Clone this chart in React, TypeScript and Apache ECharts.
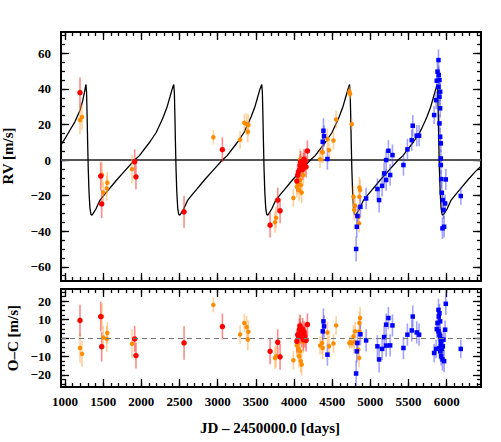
import React, { useEffect, useRef } from "react";
import * as echarts from "echarts";

// ---------- axis ranges & tick labels ----------
const X_MIN = 948;
const X_MAX = 6450;
const RV_MIN = -68;
const RV_MAX = 72;
const OC_MIN = -26.5;
const OC_MAX = 26.5;

const xTickLabels = [1000, 1500, 2000, 2500, 3000, 3500, 4000, 4500, 5000, 5500, 6000];
const rvTickLabels = [-60, -40, -20, 0, 20, 40, 60];
const ocTickLabels = [-20, -10, 0, 10, 20];

// ---------- data: red instrument ----------
const redJD = [1197, 1468, 1481, 1913, 1930, 2560, 3062, 3687, 3787, 3818, 4037, 4049, 4058, 4071, 4080, 4088, 4101, 4114, 4123, 4132, 4145, 4159, 4176];
const redRV = [37.9, -9.0, -24.7, -1.0, -9.4, -29.1, 5.8, -36.6, -22.5, -28.5, -11.8, -8.4, -6.6, -5.6, -2.8, -0.9, -3.8, -5.2, -1.9, 0.4, -0.9, -3.8, 5.1];
const redErr = [8.5, 8, 8, 7, 7, 9, 7, 7, 7, 7, 6, 6, 6, 6, 6, 6, 6, 6, 6, 6, 6, 6, 6];
const redOC = [9.5, 11.6, -4.7, -0.5, -9.5, -2.7, 6.2, -7.2, -2.3, -10.2, -1.8, 1.8, 0.9, 4.5, 6.6, 3.0, 0.9, 4.8, -0.9, 3.0, 0.9, -1.3, 7.3];

// ---------- data: orange instrument ----------
const orangeJD = [1197, 1223, 1485, 1502, 1547, 1555, 1878, 2944, 3294, 3350, 3380, 3395, 3403, 3752, 3765, 3992, 4037, 4049, 4060, 4067, 4080, 4080, 4088, 4101, 4123, 4342, 4368, 4377, 4438, 4460, 4517, 4552, 4726, 4735, 4757, 4779, 4788, 4801, 4844, 4853, 4857, 4857, 4866];
const orangeRV = [22.5, 24.2, -8.4, -18.2, -15.9, -12.8, -5.1, 12.8, 11.4, 21.0, 20.2, 15.9, 19.7, -34.9, -32.4, -21.3, -15.0, -13.1, -9.0, -16.9, -11.2, 0.4, -14.1, -18.2, -8.4, 0.5, 4.5, 4.3, 11.8, 5.6, 11.0, 22.8, 38.4, 37.2, 20.2, -20.6, -28.0, -25.7, -31.9, -35.6, -20.6, -15.4, -16.9];
const orangeErr = [8, 7, 7, 6, 7, 6, 8, 4, 5, 5, 6, 6, 6, 6, 6, 5, 6, 6, 6, 6, 6, 6, 6, 6, 6, 5, 6, 6, 6, 6, 5, 5, 3, 3, 3, 6, 6, 5, 5, 5, 6, 6, 6];
const orangeOC = [-5.4, -8.6, 11.6, 0.3, -0.5, 2.7, -3.1, 17.9, 1.9, 8.1, 5.9, -0.8, 3.4, -10.8, -9.9, -12.0, -4.1, -2.7, -5.9, -9.9, -7.2, 6.6, -12.5, -14.3, -2.0, -4.1, -2.7, -5.4, 3.0, -4.5, -3.0, 6.8, -2.7, -2.3, -2.7, 0.9, -2.3, 3.6, -6.3, -10.8, 3.6, 8.1, 10.8];

// ---------- data: blue instrument ----------
const blueJD = [4377, 4386, 4394, 4438, 4814, 4823, 4831, 4870, 4945, 5093, 5115, 5155, 5181, 5207, 5207, 5237, 5260, 5290, 5434, 5486, 5543, 5556, 5608, 5639, 5836, 5862, 5871, 5880, 5893, 5897, 5906, 5893, 5915, 5906, 5915, 5906, 5915, 5924, 5924, 5924, 5928, 5937, 5950, 5958, 5945, 5967, 5980, 5989, 6185];
const blueRV = [10.3, 16.5, 13.5, 0.6, -50.0, -37.5, -31.5, -26.3, -21.6, -16.3, -22.5, -14.5, -7.5, -11.2, 0.0, 5.2, -8.4, 2.8, -2.8, 6.0, 11.2, 19.3, 13.7, 13.7, 25.3, 33.7, 44.6, 49.7, 56.2, 47.8, 45.0, 41.2, 38.4, 35.6, 29.1, 20.6, 13.1, 9.4, 0.9, -2.8, -10.7, -18.4, -22.5, -28.1, -38.4, -37.5, -24.4, -10.9, -20.2];
const blueErr = [5, 7, 6, 6, 7, 6, 6, 6, 6, 6, 7, 6, 6, 6, 6, 6, 6, 6, 6, 6, 6, 6, 6, 6, 5, 5, 5, 5, 6, 5, 5, 5, 5, 5, 5, 5, 5, 5, 5, 5, 5, 6, 5, 5, 6, 6, 5, 6, 5];
const blueOC = [3.6, 9.0, 6.3, -9.0, -19.2, -7.2, -2.7, 2.0, -1.3, -4.5, -11.6, -5.9, 0.5, -4.1, 7.2, 10.8, -4.0, 6.8, -5.4, 1.8, 4.1, 11.6, 3.0, 1.8, -8.1, -5.9, 4.8, 8.1, 15.2, 11.6, 13.4, 3.6, 9.0, 1.8, 0.9, -5.4, -7.2, -2.7, -0.9, -4.5, -9.9, -5.9, -4.5, -0.9, -11.6, -12.5, 4.5, 18.5, -5.9];

// ---------- model curve ----------
const modelJD = [948, 1000, 1066, 1130, 1197, 1230, 1255, 1275, 1283, 1290, 1297, 1305, 1315, 1327, 1340, 1353, 1370, 1405, 1459, 1525, 1575, 1677, 1775, 1912, 1975, 2114, 2195, 2265, 2289, 2335, 2376, 2405, 2425,
  2433, 2440, 2447, 2455, 2465, 2477, 2490, 2503, 2520, 2555, 2609, 2675, 2725, 2827, 2925, 3062, 3125, 3264, 3345, 3415, 3439, 3485, 3526, 3555, 3578,
  3586, 3593, 3600, 3608, 3618, 3630, 3643, 3656, 3673, 3708, 3762, 3828, 3878, 3980, 4078, 4215, 4278, 4417, 4498, 4568, 4592, 4638, 4679, 4708, 4728,
  4736, 4743, 4750, 4758, 4768, 4780, 4793, 4806, 4823, 4858, 4912, 4978, 5028, 5130, 5228, 5365, 5428, 5567, 5648, 5718, 5742, 5788, 5829, 5858, 5875,
  5883, 5890, 5897, 5905, 5915, 5927, 5940, 5953, 5970, 6005, 6059, 6125, 6175, 6277, 6375, 6450];
const modelRV = [8.5, 12.0, 16.9, 21.5, 28.0, 33.0, 38.0, 42.5, 38.0, 25.0, 10.0, -5.0, -18.0, -27.0, -30.5, -31.0, -30.0, -27.5, -22.5, -19.0, -16.5, -11.2, -6.5, 0.0, 2.5, 10.3, 15.5, 22.0, 24.4, 29.5, 35.6, 40.0, 42.5,
  38.0, 25.0, 10.0, -5.0, -18.0, -27.0, -30.5, -31.0, -30.0, -27.5, -22.5, -19.0, -16.5, -11.2, -6.5, 0.0, 2.5, 10.3, 15.5, 22.0, 24.4, 29.5, 35.6, 40.0, 42.5,
  38.0, 25.0, 10.0, -5.0, -18.0, -27.0, -30.5, -31.0, -30.0, -27.5, -22.5, -19.0, -16.5, -11.2, -6.5, 0.0, 2.5, 10.3, 15.5, 22.0, 24.4, 29.5, 35.6, 40.0, 42.5,
  38.0, 25.0, 10.0, -5.0, -18.0, -27.0, -30.5, -31.0, -30.0, -27.5, -22.5, -19.0, -16.5, -11.2, -6.5, 0.0, 2.5, 10.3, 15.5, 22.0, 24.4, 29.5, 35.6, 40.0, 42.5,
  38.0, 25.0, 10.0, -5.0, -18.0, -27.0, -30.5, -31.0, -30.0, -27.5, -22.5, -19.0, -16.5, -11.2, -6.5, -3.5];

const FONT = "Liberation Serif";

function steps(a: number, b: number, s: number): number[] {
  const out: number[] = [];
  for (let v = a; v <= b + 1e-9; v += s) out.push(Math.round(v * 100) / 100);
  return out;
}

const fmt = (v: number) => String(v).replace("-", "\u2212");

function tickAxis(o: any) {
  return {
    type: "value",
    gridIndex: o.grid,
    position: o.position,
    min: o.min,
    max: o.max,
    axisLine: { show: false, onZero: false },
    splitLine: { show: false },
    axisTick: {
      show: true,
      inside: true,
      length: o.len,
      customValues: o.ticks,
      lineStyle: { color: "#000", width: 1.3 },
    },
    axisLabel: o.labels
      ? {
          show: true,
          customValues: o.labels,
          formatter: fmt,
          fontFamily: FONT,
          fontWeight: "bold",
          fontSize: 13,
          color: "#000",
          margin: o.margin,
        }
      : { show: false },
  };
}

function errSeries(jd: number[], val: number[], err: number[], color: string, ax: number) {
  return {
    type: "custom",
    xAxisIndex: ax,
    yAxisIndex: ax,
    z: 3,
    silent: true,
    data: jd.map((x, i) => [x, val[i], err[i]]),
    encode: { x: 0, y: 1 },
    renderItem: (_p: any, api: any) => {
      const x = api.value(0);
      const y = api.value(1);
      const e = api.value(2);
      const a = api.coord([x, y - e]);
      const b = api.coord([x, y + e]);
      return {
        type: "line",
        shape: { x1: a[0], y1: a[1], x2: b[0], y2: b[1] },
        style: { stroke: color, lineWidth: 1.6 },
      };
    },
  };
}

function pts(jd: number[], val: number[], color: string, symbol: string, size: number, ax: number) {
  return {
    type: "scatter",
    xAxisIndex: ax,
    yAxisIndex: ax,
    z: 4,
    symbol,
    symbolSize: size,
    itemStyle: { color, opacity: 1 },
    data: jd.map((x, i) => [x, val[i]]),
  };
}

export default function App() {
  const ref = useRef<HTMLDivElement>(null);
  useEffect(() => {
    if (!ref.current) return;
    const chart = echarts.init(ref.current, null, { renderer: "svg" });
    const xMinor = steps(1000, 6400, 100);
    const rvMinor = steps(-65, 70, 5);
    const ocMinor = steps(-25, 25, 2.5);

    const xAxes: any[] = [];
    const yAxes: any[] = [];
    [0, 1].forEach((g) => {
      ["bottom", "top"].forEach((pos) => {
        xAxes.push(tickAxis({ grid: g, position: pos, min: X_MIN, max: X_MAX, len: 8, ticks: xTickLabels, labels: g === 1 && pos === "bottom" ? xTickLabels : null, margin: 8 }));
        xAxes.push(tickAxis({ grid: g, position: pos, min: X_MIN, max: X_MAX, len: 4, ticks: xMinor }));
      });
      const yMin = g === 0 ? RV_MIN : OC_MIN;
      const yMax = g === 0 ? RV_MAX : OC_MAX;
      const maj = g === 0 ? rvTickLabels : ocTickLabels;
      const min = g === 0 ? rvMinor : ocMinor;
      ["left", "right"].forEach((pos) => {
        yAxes.push(tickAxis({ grid: g, position: pos, min: yMin, max: yMax, len: 8, ticks: maj, labels: pos === "left" ? maj : null, margin: 10 }));
        yAxes.push(tickAxis({ grid: g, position: pos, min: yMin, max: yMax, len: 4, ticks: min }));
      });
    });

    const option: any = {
      animation: false,
      backgroundColor: "#fff",
      grid: [
        { left: 61, right: 20, top: 32, height: 249, show: true, borderColor: "#000", borderWidth: 2, backgroundColor: "transparent" },
        { left: 61, right: 20, top: 289, height: 98, show: true, borderColor: "#000", borderWidth: 2, backgroundColor: "transparent" },
      ],
      xAxis: xAxes,
      yAxis: yAxes,
      series: [
        {
          type: "line",
          xAxisIndex: 0,
          yAxisIndex: 0,
          z: 2,
          silent: true,
          showSymbol: false,
          symbol: "none",
          lineStyle: { color: "#000", width: 1.3 },
          data: modelJD.map((x, i) => [x, modelRV[i]]),
          markLine: {
            silent: true,
            symbol: "none",
            label: { show: false },
            lineStyle: { color: "#555", width: 2, type: "solid" },
            data: [{ yAxis: 0 }],
            z: 1,
          },
        },
        {
          type: "line",
          xAxisIndex: 4,
          yAxisIndex: 4,
          z: 2,
          silent: true,
          showSymbol: false,
          symbol: "none",
          lineStyle: { width: 0, opacity: 0 },
          data: [[X_MIN, 0], [X_MAX, 0]],
          markLine: {
            silent: true,
            symbol: "none",
            label: { show: false },
            lineStyle: { color: "#777", width: 1.2, type: [5, 4] },
            data: [{ yAxis: 0 }],
          },
        },
        errSeries(orangeJD, orangeRV, orangeErr, "rgba(255,170,70,0.55)", 0),
        errSeries(redJD, redRV, redErr, "rgba(255,60,60,0.6)", 0),
        errSeries(blueJD, blueRV, blueErr, "rgba(70,70,255,0.5)", 0),
        pts(orangeJD, orangeRV, "#ff8c00", "circle", 4.5, 0),
        pts(redJD, redRV, "#ff0000", "circle", 5.5, 0),
        pts(blueJD, blueRV, "#0000ff", "rect", 4.5, 0),
        errSeries(orangeJD, orangeOC, orangeErr, "rgba(255,170,70,0.55)", 4),
        errSeries(redJD, redOC, redErr, "rgba(255,60,60,0.6)", 4),
        errSeries(blueJD, blueOC, blueErr, "rgba(70,70,255,0.5)", 4),
        pts(orangeJD, orangeOC, "#ff8c00", "circle", 4.5, 4),
        pts(redJD, redOC, "#ff0000", "circle", 5.5, 4),
        pts(blueJD, blueOC, "#0000ff", "rect", 4.5, 4),
      ],
      graphic: [
        {
          type: "text",
          x: 8,
          y: 156,
          rotation: Math.PI / 2,
          style: { text: "RV [m/s]", font: `bold 15px ${FONT}`, fill: "#000", textAlign: "center", textVerticalAlign: "middle", align: "center", verticalAlign: "middle" },
        },
        {
          type: "text",
          x: 13,
          y: 338,
          rotation: Math.PI / 2,
          style: { text: "O\u2013C [m/s]", font: `bold 15px ${FONT}`, fill: "#000", textAlign: "center", textVerticalAlign: "middle", align: "center", verticalAlign: "middle" },
        },
        {
          type: "text",
          x: 270,
          y: 428,
          style: { text: "JD \u2013 2450000.0 [days]", font: `bold 15px ${FONT}`, fill: "#000", textAlign: "center", textVerticalAlign: "middle", align: "center", verticalAlign: "middle" },
        },
      ],
    };
    chart.setOption(option);
    return () => chart.dispose();
  }, []);
  return <div ref={ref} style={{ position: "fixed", left: 0, top: 0, width: 501, height: 442 }} />;
}
